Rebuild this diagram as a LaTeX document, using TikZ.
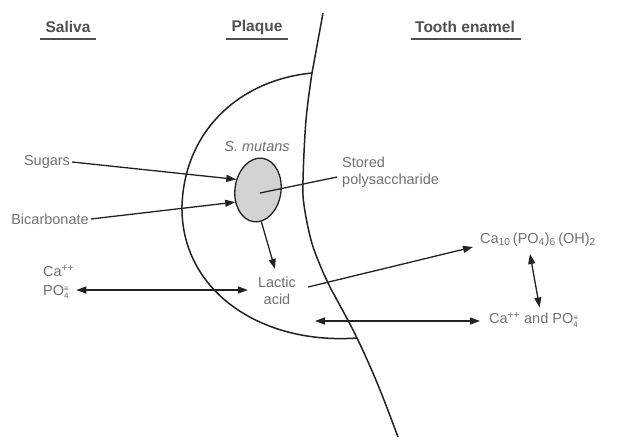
\documentclass[tikz,border=0pt]{standalone}
\usepackage{fontspec}
\setmainfont{Liberation Sans}
\usetikzlibrary{arrows.meta,calc,shapes.geometric}
\definecolor{txt}{HTML}{707070}
\definecolor{hdr}{HTML}{505050}
\definecolor{ink}{HTML}{222222}
\definecolor{cellfill}{HTML}{D2D2D2}
\newcommand{\phosph}{PO\raisebox{-0.45ex}{\fontsize{8}{8}\selectfont\shortstack[l]{≡\\[-1.5pt]4}}}
\begin{document}
\begin{tikzpicture}[x=1pt,y=-1pt,
  lbl/.style={text=txt,font=\fontsize{14.5}{17}\selectfont,inner sep=2pt},
  hdrlbl/.style={text=hdr,font=\bfseries\fontsize{15.5}{18}\selectfont,inner sep=3pt},
  uline/.style={draw=hdr,line width=1.1pt},
  border/.style={draw=ink,line width=1.5pt},
  arr/.style={draw=ink,line width=1.3pt,-{Triangle[length=10pt,width=7pt]}},
  darr/.style={draw=ink,line width=1.3pt,{Triangle[length=10pt,width=7pt]}-{Triangle[length=10pt,width=7pt]}},
  plain/.style={draw=ink,line width=1.3pt}]
\useasboundingbox (0,0) rectangle (617,442);
% headers
\node[hdrlbl] (saliva) at (68,27) {Saliva};
\node[hdrlbl] (plaque) at (257,27) {Plaque};
\node[hdrlbl] (enamel) at (465,27) {Tooth enamel};
\coordinate (ul) at (0,39);
\draw[uline] ($(saliva.west |- ul)+(-2,0)$) -- ($(saliva.east |- ul)+(2,0)$);
\draw[uline] ($(plaque.west |- ul)+(-2,0)$) -- ($(plaque.east |- ul)+(2,0)$);
\draw[uline] ($(enamel.west |- ul)+(-1,0)$) -- ($(enamel.east |- ul)+(3,0)$);
% tooth surface
\draw[border] (323,13) -- (312,73);
\draw[border] plot[smooth,tension=0.6] coordinates {(312,73) (306,120) (303,180) (304,205) (311,240) (320,265) (330,287) (337,300) (357,338) (378,385) (398,437)};
% plaque boundary
\draw[border] (312,73) .. controls (240,80) and (185,130) .. (182,205)
  .. controls (180,290) and (260,345) .. (357,338);
% S. mutans cell
\node[draw=ink,line width=1.3pt,fill=cellfill,ellipse,minimum width=46pt,minimum height=64pt,inner sep=0pt,rotate=-8] (cell) at (258,190) {};
\node[lbl,font=\itshape\fontsize{14.5}{17}\selectfont] (smutans) at (257,147) {S. mutans};
% labels
\node[lbl] (sugars) at (47,162) {Sugars};
\node[lbl] (bicarb) at (50,219) {Bicarbonate};
\node[lbl,align=left,anchor=west] (stored) at (340,172) {Stored\\polysaccharide};
\node[lbl,align=center] (lactic) at (277,291) {Lactic\\acid};
\node[lbl,align=left,anchor=west,font=\fontsize{14.5}{19}\selectfont] (capo) at (41,282) {Ca\textsuperscript{++}\\\phosph};
\node[lbl,anchor=west] (hydrox) at (478,240) {Ca\textsubscript{10}\,(PO\textsubscript{4})\textsubscript{6}\,(OH)\textsubscript{2}};
\node[lbl,anchor=west] (caand) at (487,320) {Ca\textsuperscript{++} and \phosph};
\coordinate (plq) at (315,321);
% connectors
\draw[arr] (sugars.east) -- (cell.162);
\draw[arr] (bicarb.east) -- (cell.216);
\draw[plain] ($(cell.center)+(2,3)$) -- ($(stored.west)+(-3,5)$);
\draw[arr] (cell.284) -- ($(lactic.north)+(-2,-6)$);
\draw[darr] ($(capo.east)+(0,8)$) -- ($(lactic.west)+(-8,-1)$);
\draw[arr] ($(lactic.east)+(10,-4)$) -- ($(hydrox.west)+(-5,7)$);
\draw[darr] ($(hydrox.south)+(-8,5)$) -- ($(caand.north)+(6,-3)$);
\draw[darr] (plq) -- ($(caand.west)+(-7,1)$);
\end{tikzpicture}
\end{document}
